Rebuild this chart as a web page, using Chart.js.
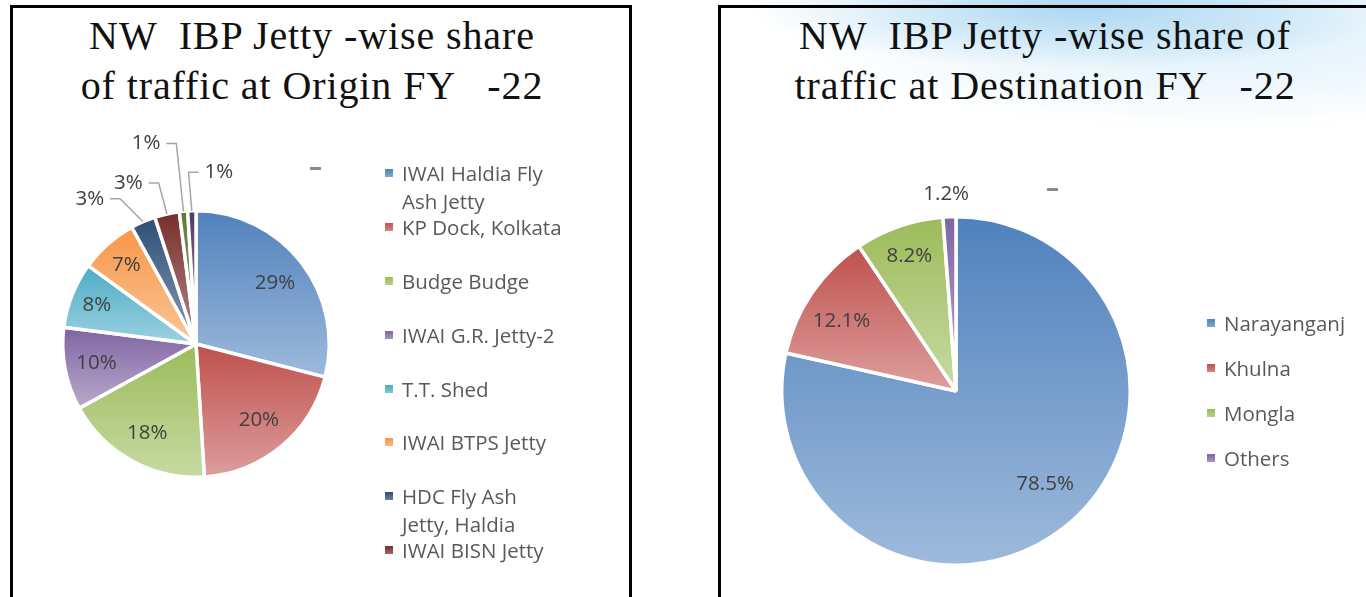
<!DOCTYPE html>
<html>
<head>
<meta charset="utf-8">
<script src="https://cdn.jsdelivr.net/npm/chart.js@4.4.0/dist/chart.umd.min.js"></script>
<style>
body { margin: 0; width: 1366px; height: 597px; overflow: hidden; background: #fff; position: relative; font-family: 'Open Sans', sans-serif; }
.swoosh { position: absolute; left: 700px; top: 0; width: 666px; height: 130px;
  background: radial-gradient(ellipse 330px 60px at 380px 8px, rgba(150, 205, 238, 0.75), rgba(190, 225, 245, 0) 100%),
              radial-gradient(ellipse 420px 90px at 520px 40px, rgba(200, 230, 248, 0.6), rgba(220, 240, 250, 0) 100%); }
.panel { position: absolute; top: 5px; height: 640px; border: 3px solid #000; box-sizing: border-box; overflow: hidden; }
#p1 { left: 10px; width: 622px; background: #fff; }
#p2 { left: 718px; width: 700px; background: transparent; }
.title { position: absolute; top: 3px; left: 0; text-align: center; white-space: pre;
  font-family: 'Liberation Serif', 'Times New Roman', serif; font-size: 40px; letter-spacing: 0.9px; line-height: 50px; color: #111; }
canvas { position: absolute; left: 0; top: 0; }
.legend { position: absolute; color: #595959; font-size: 20.5px; }
.legend .item { position: relative; padding-left: 17px; line-height: 28px; }
.legend .box { position: absolute; left: 0; top: 10px; width: 8px; height: 8px; }
.dash { position: absolute; color: #8a8a8a; font-size: 26px; font-weight: bold; line-height: 26px; }
</style>
</head>
<body>
<div class="swoosh"></div>

<div class="panel" id="p1">
  <div class="title" style="width:598px">NW  IBP Jetty -wise share
of traffic at Origin FY   -22</div>
  <canvas id="originChart" width="616" height="589"></canvas>
  <div class="dash" style="left:296px;top:145px">–</div>
  <div class="legend" id="originLegend" style="left:372px;top:151px;width:180px"></div>
</div>

<div class="panel" id="p2">
  <div class="title" style="width:648px">NW  IBP Jetty -wise share of
traffic at Destination FY   -22</div>
  <canvas id="destChart" width="645" height="589"></canvas>
  <div class="dash" style="left:325px;top:166px">–</div>
  <div class="legend" id="destLegend" style="left:486px;top:301px;width:170px"></div>
</div>

<script>
const originLabels = ['IWAI Haldia Fly Ash Jetty', 'KP Dock, Kolkata', 'Budge Budge', 'IWAI G.R. Jetty-2',
  'T.T. Shed', 'IWAI BTPS Jetty', 'HDC Fly Ash Jetty, Haldia', 'IWAI BISN Jetty', 'Others', 'Others (2)'];
const originShare = [29, 20, 18, 10, 8, 7, 3, 3, 1, 1];

const destLabels = ['Narayanganj', 'Khulna', 'Mongla', 'Others'];
const destShare = [78.5, 12.1, 8.2, 1.2];

const originColors = ['#4F81BD', '#C0504D', '#9BBB59', '#8064A2', '#4BACC6', '#F79646',
  '#2C4D75', '#772C2A', '#5F7530', '#4D3B62'];
const destColors = ['#4F81BD', '#C0504D', '#9BBB59', '#8064A2'];

// label placement: [distance as fraction of radius, angle nudge in degrees, leader line]
const originPlace = [[0.75, 0, 0], [0.74, 0, 0], [0.76, 0, 0], [0.76, 0, 0], [0.8, 0, 0], [0.79, 0, 0],
  [1.35, -12.8, 1], [1.31, -10.2, 1], [1.55, -8.6, 1], [1.3, 9.4, 1]];
const destPlace = [[0.74, -5, 0], [0.77, -3, 0], [0.82, 0, 0], [1.13, -0.7, 0]];

function lighten(hex, amt) {
  const n = parseInt(hex.slice(1), 16);
  const r = (n >> 16) & 255, g = (n >> 8) & 255, b = n & 255;
  const f = c => Math.round(c + (255 - c) * amt);
  return `rgb(${f(r)},${f(g)},${f(b)})`;
}

// vertical gradient over each slice, darker at the top
function sliceFill(colors) {
  return ctx => {
    const area = ctx.chart.chartArea;
    if (ctx.type !== 'data' || !area) return colors[0];
    const base = colors[ctx.dataIndex];
    const data = ctx.dataset.data;
    const total = data.reduce((a, b) => a + b, 0);
    let before = 0;
    for (let i = 0; i < ctx.dataIndex; i++) before += data[i];
    const a0 = before / total * 2 * Math.PI;
    const a1 = (before + data[ctx.dataIndex]) / total * 2 * Math.PI;
    const cy = (area.top + area.bottom) / 2;
    const r = Math.min(area.width, area.height) / 2;
    const ys = [cy, cy - r * Math.cos(a0), cy - r * Math.cos(a1)];
    if (a0 <= 0.0001) ys.push(cy - r);
    if (a0 <= Math.PI && a1 >= Math.PI) ys.push(cy + r);
    const g = ctx.chart.ctx.createLinearGradient(0, Math.min(...ys), 0, Math.max(...ys));
    g.addColorStop(0, base);
    g.addColorStop(1, lighten(base, 0.45));
    return g;
  };
}

const pieLabels = {
  id: 'pieLabels',
  afterDatasetsDraw(chart, args, opts) {
    const ctx = chart.ctx;
    const data = chart.data.datasets[0].data;
    ctx.save();
    ctx.font = '20.5px "Open Sans"';
    ctx.fillStyle = '#404040';
    ctx.textAlign = 'center';
    ctx.textBaseline = 'middle';
    chart.getDatasetMeta(0).data.forEach((arc, i) => {
      const p = arc.getProps(['x', 'y', 'startAngle', 'endAngle', 'outerRadius'], true);
      const place = opts.place[i];
      const mid = (p.startAngle + p.endAngle) / 2;
      const a = mid + place[1] * Math.PI / 180;
      const lx = p.x + Math.cos(a) * p.outerRadius * place[0];
      const ly = p.y + Math.sin(a) * p.outerRadius * place[0];
      const text = opts.format(data[i]);
      if (place[2]) {
        const ex = p.x + Math.cos(mid) * p.outerRadius;
        const ey = p.y + Math.sin(mid) * p.outerRadius;
        const w = ctx.measureText(text).width;
        const dir = lx < ex ? 1 : -1;
        const side = lx + dir * (w / 2 + 6);
        const elbow = side + dir * 10;
        ctx.beginPath();
        ctx.moveTo(ex, ey);
        ctx.lineTo(elbow, ly);
        ctx.lineTo(side, ly);
        ctx.strokeStyle = '#a6a6a6';
        ctx.lineWidth = 1.5;
        ctx.stroke();
      }
      ctx.fillText(text, lx, ly);
    });
    ctx.restore();
  }
};

function makePie(id, labels, values, colors, padding, place, format) {
  return new Chart(document.getElementById(id), {
    type: 'pie',
    data: {
      labels: labels,
      datasets: [{
        data: values,
        backgroundColor: sliceFill(colors),
        borderColor: '#fff',
        borderWidth: 3.5
      }]
    },
    options: {
      responsive: false,
      animation: false,
      devicePixelRatio: 1,
      layout: { padding: padding },
      plugins: {
        legend: { display: false },
        tooltip: { enabled: false },
        pieLabels: { place: place, format: format }
      }
    },
    plugins: [pieLabels]
  });
}

function makeLegend(id, labels, colors, step) {
  const el = document.getElementById(id);
  labels.forEach((label, i) => {
    const item = document.createElement('div');
    item.className = 'item';
    item.style.height = step + 'px';
    const box = document.createElement('span');
    box.className = 'box';
    box.style.background = `linear-gradient(${colors[i]}, ${lighten(colors[i], 0.3)})`;
    item.appendChild(box);
    item.appendChild(document.createTextNode(label));
    el.appendChild(item);
  });
}

makePie('originChart', originLabels, originShare, originColors,
  { left: 48, right: 298, top: 201, bottom: 118 }, originPlace, v => v + '%');
makePie('destChart', destLabels, destShare, destColors,
  { left: 59, right: 234, top: 207, bottom: 30 }, destPlace, v => v.toFixed(1) + '%');

makeLegend('originLegend', originLabels, originColors, 53.9);
makeLegend('destLegend', destLabels, destColors, 45);
</script>
</body>
</html>
